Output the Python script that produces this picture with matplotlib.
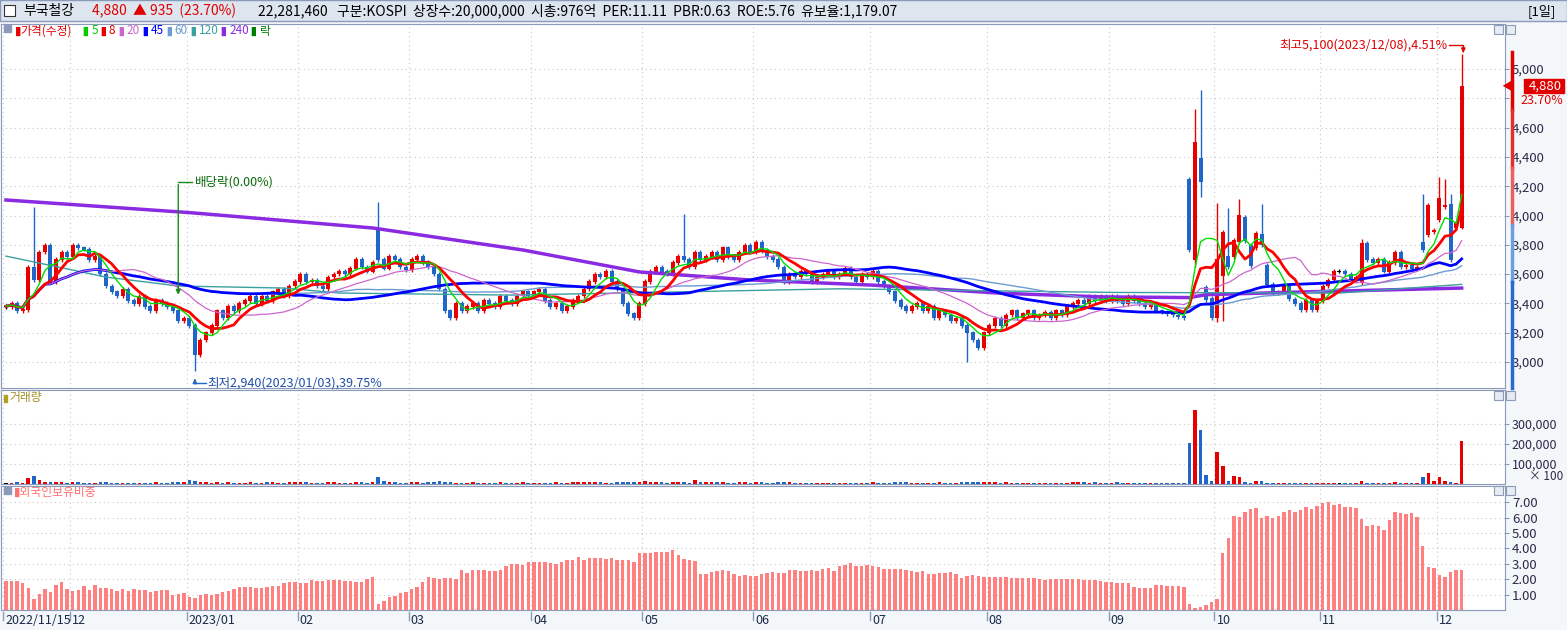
import numpy as np
import pandas as pd
import matplotlib
matplotlib.use('Agg')
import matplotlib.pyplot as plt
from matplotlib.lines import Line2D
from matplotlib.patches import Rectangle

plt.rcParams['font.family'] = ['Noto Sans CJK KR', 'DejaVu Sans']

# ---- data ----
month_labels = ['2022/11/15', '12', '2023/01', '02', '03', '04', '05', '06', '07', '08', '09', '10', '11', '12']

close_by_month = [
    [3380, 3400, 3350, 3360, 3650, 3560, 3750, 3800, 3550, 3700, 3750, 3720],
    [3800, 3780, 3770, 3700, 3720, 3600, 3520, 3480, 3450, 3500, 3420, 3400, 3450, 3380, 3350, 3420, 3400, 3380, 3350, 3280, 3300],
    [3250, 3050, 3150, 3200, 3250, 3350, 3300, 3380, 3350, 3400, 3420, 3450, 3400, 3450, 3420, 3480, 3500, 3450, 3520, 3550],
    [3600, 3550, 3560, 3520, 3500, 3580, 3600, 3620, 3600, 3640, 3700, 3650, 3620, 3680, 3700, 3640, 3720, 3700, 3650, 3630],
    [3700, 3720, 3680, 3650, 3600, 3500, 3350, 3300, 3400, 3350, 3380, 3400, 3350, 3420, 3400, 3380, 3450, 3420, 3400, 3450, 3480, 3450],
    [3480, 3500, 3420, 3380, 3400, 3350, 3380, 3420, 3450, 3500, 3550, 3600, 3580, 3620, 3550, 3500, 3400, 3330, 3300, 3400],
    [3550, 3620, 3650, 3620, 3600, 3680, 3720, 3700, 3650, 3750, 3700, 3720, 3750, 3700, 3780, 3720, 3700, 3750, 3800, 3750],
    [3820, 3760, 3720, 3700, 3650, 3550, 3600, 3580, 3620, 3600, 3550, 3580, 3600, 3620, 3580, 3600, 3640, 3580, 3550, 3600, 3580],
    [3620, 3550, 3520, 3480, 3420, 3380, 3350, 3380, 3400, 3350, 3380, 3300, 3350, 3320, 3280, 3300, 3250, 3200, 3150, 3100, 3200],
    [3250, 3300, 3250, 3320, 3350, 3300, 3330, 3350, 3300, 3320, 3340, 3300, 3350, 3320, 3380, 3400, 3420, 3400, 3450, 3420, 3450, 3420],
    [3450, 3420, 3400, 3450, 3420, 3400, 3380, 3400, 3350, 3340, 3330, 3320, 3310, 3300, 3765, 4500, 4230, 3423, 3300],
    [3700, 3887, 3650, 3830, 4000, 3830, 3660, 3880, 3800, 3530, 3470, 3480, 3520, 3430, 3400, 3360, 3420, 3360, 3420],
    [3520, 3560, 3620, 3620, 3600, 3560, 3580, 3810, 3700, 3680, 3700, 3620, 3680, 3750, 3650, 3660, 3640, 3650, 3765, 4070, 3900],
    [4120, 4070, 3700, 3945, 4880],
]

open_override = {67: 3900, 213: 4250, 214: 3700, 215: 4390, 216: 3512, 217: 3437, 218: 3300, 219: 3590,
                 220: 3720, 221: 3720, 222: 3820, 223: 3990, 224: 3800, 225: 3780, 226: 3870, 227: 3660,
                 244: 3540, 255: 3820, 256: 3870, 257: 3890, 258: 3970, 259: 4060, 260: 4080, 261: 3915, 262: 3920}
high_override = {5: 4058, 67: 4090, 122: 4010, 214: 4727, 215: 4857, 218: 4085, 220: 4050, 222: 4110,
                 226: 4080, 244: 3840, 255: 4150, 258: 4260, 259: 4250, 260: 4150, 262: 5100}
low_override = {34: 2940, 173: 3000, 214: 3650, 215: 4126, 219: 3280, 218: 3270}

vol_by_month = [
    [6, 5, 8, 6, 30, 38, 22, 12, 8, 10, 9, 6],
    [10, 8, 6, 7, 6, 8, 9, 6, 5, 6, 5, 7, 6, 5, 6, 8, 6, 5, 9, 12, 8],
    [18, 14, 9, 8, 7, 9, 6, 8, 6, 7, 6, 8, 7, 6, 8, 9, 7, 6, 8, 9],
    [10, 8, 7, 6, 7, 9, 8, 7, 6, 7, 12, 8, 7, 9, 35, 14, 10, 8, 7, 6],
    [9, 8, 7, 10, 12, 14, 10, 8, 7, 6, 7, 8, 6, 7, 6, 6, 8, 7, 6, 7, 8, 7],
    [7, 6, 6, 7, 8, 6, 7, 8, 9, 8, 9, 12, 8, 7, 6, 8, 9, 10, 8, 12],
    [14, 10, 9, 8, 7, 9, 12, 8, 7, 22, 9, 8, 10, 8, 9, 7, 6, 8, 9, 7],
    [10, 8, 7, 6, 8, 12, 8, 7, 6, 7, 6, 7, 6, 7, 6, 6, 7, 6, 6, 7, 6],
    [8, 7, 6, 7, 8, 9, 8, 7, 6, 7, 6, 7, 8, 7, 6, 7, 8, 9, 10, 12, 9],
    [10, 9, 7, 8, 7, 6, 7, 6, 6, 7, 6, 7, 6, 7, 6, 8, 9, 8, 7, 8, 7, 6],
    [7, 8, 6, 7, 6, 6, 7, 6, 7, 6, 6, 7, 6, 7, 202, 369, 270, 44, 15],
    [157, 89, 15, 39, 34, 10, 6, 15, 15, 6, 7, 6, 6, 7, 6, 6, 7, 6, 6],
    [7, 6, 6, 7, 6, 7, 6, 15, 6, 7, 6, 6, 7, 10, 6, 7, 6, 6, 34, 54, 15],
    [34, 15, 10, 5, 216],
]

foreign = [
    1.91, 1.91, 1.91, 1.74, 1.46, 0.74, 1.07, 1.37, 1.17, 1.63,
    1.83, 1.37, 1.26, 1.30, 1.57, 1.30, 1.61, 1.43, 1.43, 1.37,
    1.26, 1.37, 1.26, 1.35, 1.30, 1.30, 1.17, 1.26, 1.30, 1.30,
    0.98, 1.07, 1.11, 0.87, 0.80, 0.98, 1.04, 0.98, 1.04, 1.17,
    1.26, 1.39, 1.50, 1.50, 1.50, 1.43, 1.43, 1.48, 1.54, 1.57,
    1.78, 1.80, 1.83, 1.78, 1.78, 1.96, 1.91, 1.91, 1.96, 1.96,
    1.93, 1.89, 1.89, 1.80, 1.83, 2.00, 2.15, 0.39, 0.57, 0.87,
    0.93, 1.11, 1.15, 1.37, 1.50, 1.83, 2.11, 2.07, 2.02, 2.09,
    2.09, 2.02, 2.57, 2.41, 2.57, 2.61, 2.61, 2.54, 2.54, 2.61,
    2.87, 2.96, 3.00, 2.93, 3.13, 3.13, 3.13, 3.13, 3.07, 3.00,
    3.13, 3.26, 3.26, 3.46, 3.26, 3.35, 3.39,
    3.39, 3.33, 3.39, 3.26, 3.26, 3.26, 3.13, 3.72, 3.72, 3.72,
    3.78, 3.78, 3.78, 3.91, 3.57, 3.33, 3.26, 3.20, 2.35, 2.35,
    2.48, 2.54, 2.61, 2.54, 2.35, 2.22, 2.26, 2.22, 2.20, 2.35,
    2.41, 2.48, 2.41, 2.41, 2.61, 2.61, 2.54, 2.54, 2.61, 2.54,
    2.67, 2.74, 2.54, 2.87, 2.93, 3.07, 2.87, 2.87, 2.93, 2.87,
    2.80, 2.67, 2.67, 2.67, 2.67, 2.61, 2.54, 2.48, 2.54, 2.35,
    2.35, 2.41, 2.41, 2.48, 2.35, 2.09, 2.22, 2.28, 2.22, 2.15,
    2.15, 2.15, 2.15, 2.11, 2.09, 2.09, 2.09, 2.09, 2.09, 2.02,
    1.98, 2.02, 2.02, 2.02, 2.02, 2.02, 2.02, 1.98, 1.96, 1.96,
    1.87, 1.83, 1.83, 1.76, 1.74, 1.74, 1.50, 1.43, 1.43, 1.43,
    1.63, 1.63, 1.57,
    1.54, 1.54, 1.48, 0.37, 0.11, 0.17, 0.30, 0.52, 0.70, 3.70,
    4.67, 6.13, 6.04, 6.37, 6.57, 6.63, 5.98, 6.07, 5.98, 6.11,
    6.37, 6.50, 6.39, 6.50, 6.70, 6.57, 6.76, 6.96, 7.02, 6.83,
    6.89, 6.70, 6.70, 6.63, 5.91, 5.48, 5.52, 5.48, 5.20, 5.85,
    6.37, 6.30, 6.24, 6.30, 6.04, 4.15, 2.78, 2.72, 2.24, 2.13,
    2.46, 2.59, 2.59,
]

ma120_idx = [0, 18, 31, 50, 60, 91, 150, 200, 240, 262]
ma120_val = [3723, 3580, 3519, 3505, 3471, 3457, 3500, 3475, 3471, 3530]
ma240_idx = [0, 33, 66, 93, 114, 134, 156, 179, 197, 213, 216, 233, 262]
ma240_val = [4106, 4020, 3915, 3765, 3615, 3560, 3525, 3470, 3445, 3440, 3460, 3478, 3505]

# ---- derived ----
close = np.array([c for m in close_by_month for c in m], dtype=float)
n = len(close)
opn = np.r_[close[0], close[:-1]]
for k, v in open_override.items():
    opn[k] = v
hi = np.maximum(opn, close) + 15
lo = np.minimum(opn, close) - 15
for k, v in high_override.items():
    hi[k] = v
for k, v in low_override.items():
    lo[k] = v
vol = np.array([v for m in vol_by_month for v in m], dtype=float) * 1000
month_starts = np.cumsum([0] + [len(m) for m in close_by_month[:-1]])
x = np.arange(n)
s = pd.Series(close)

RED = '#e80000'
BLUE = '#1f66c8'
up = close > opn
down = close < opn
ccol = np.where(up, RED, np.where(down, BLUE, 'black'))

W, H = 1567, 630
fig = plt.figure(figsize=(W / 100, H / 100), dpi=100)
fig.patch.set_facecolor('#f4f7f9')

def px_axes(x0, y0, x1, y1):
    return fig.add_axes([x0 / W, 1 - y1 / H, (x1 - x0) / W, (y1 - y0) / H])

xlim = (-0.9, 269.8)
ax_p = px_axes(1, 24, 1505, 388)
ax_v = px_axes(1, 390, 1505, 484)
ax_f = px_axes(1, 486, 1505, 610)

for ax in (ax_p, ax_v, ax_f):
    ax.set_facecolor('white')
    ax.set_xlim(*xlim)
    for sp in ax.spines.values():
        sp.set_color('#8a9ab8')
    ax.yaxis.tick_right()
    ax.tick_params(axis='y', length=3, colors='#8a9ab8', labelcolor='#2a2a4a', labelsize=9.5, pad=2)
    ax.tick_params(axis='x', length=0, labelbottom=False)
    ax.set_xticks(month_starts - 0.5)
    ax.grid(True, color='#c8c8c8', linestyle=(0, (1, 3)), linewidth=0.8)
    ax.set_axisbelow(True)

# price panel
ax_p.set_ylim(2823, 5307)
ticks = list(range(3000, 5001, 200))
ax_p.set_yticks(ticks)
ax_p.set_yticklabels(['' if t == 4800 else f'{t:,}' for t in ticks])
ax_p.vlines(x, lo, hi, colors=ccol, linewidth=1)
ax_p.bar(x, np.abs(close - opn) + 4, bottom=np.minimum(close, opn) - 2, width=0.72, color=ccol)

ax_p.plot(ma240_idx, ma240_val, color='#8a2be2', lw=2.5)
ax_p.plot(ma120_idx, ma120_val, color='#3aa0a0', lw=1)
ax_p.plot(x, s.rolling(60, min_periods=1).mean(), color='#6b9bd0', lw=1)
ax_p.plot(x, s.rolling(45, min_periods=1).mean(), color='#0000ff', lw=2)
ax_p.plot(x, s.rolling(20, min_periods=1).mean(), color='#cc66cc', lw=0.9)
ax_p.plot(x, s.rolling(8, min_periods=1).mean(), color='#ff0000', lw=2)
ax_p.plot(x, s.rolling(5, min_periods=1).mean(), color='#00dd00', lw=1)

# legend line
items = [('▮', '#e80000'), ('가격(수정)', '#e80000'), (' ▮', '#00cc00'), ('5', '#00cc00'), (' ▮', '#e80000'), ('8', '#e80000'),
         (' ▮', '#cc66cc'), ('20', '#cc66cc'), (' ▮', '#0000ff'), ('45', '#0000ff'), (' ▮', '#6b9bd0'), ('60', '#6b9bd0'),
         (' ▮', '#3aa0a0'), ('120', '#3aa0a0'), (' ▮', '#8a2be2'), ('240', '#8a2be2'), (' ▮', '#008000'), ('락', '#008000')]
fig.patches.append(Rectangle((4 / W, 1 - 32 / H), 7 / W, 7 / H, transform=fig.transFigure, color='#8a9ab8'))
xx = 15
for txt, col in items:
    fig.text(xx / W, 1 - 31 / H, txt, color=col, fontsize=8.5, va='center', ha='left')
    if txt.strip() == '▮':
        xx += 5.5 * len(txt)
    elif txt.isascii():
        xx += 6.5 * len(txt)
    else:
        xx += 10 * len(txt)

# annotations
ax_p.annotate('', xy=(31, 3440), xytext=(31, 4230),
              arrowprops=dict(arrowstyle='-|>', color='#1a8a1a', lw=1, mutation_scale=7))
ax_p.plot([31, 33.5], [4230, 4230], color='#1a8a1a', lw=1)
ax_p.text(34, 4230, '배당락(0.00%)', color='#0a6a0a', fontsize=9, va='center')
ax_p.annotate('', xy=(34, 2905), xytext=(34, 2855), arrowprops=dict(arrowstyle='-|>', color='#1f66c8', lw=1, mutation_scale=6))
ax_p.plot([34, 36], [2855, 2855], color='#1f66c8', lw=1)
ax_p.text(36.3, 2855, '최저2,940(2023/01/03),39.75%', color='#1f4fa8', fontsize=9, va='center')
ax_p.text(259.5, 5165, '최고5,100(2023/12/08),4.51%', color='#e00000', fontsize=9, va='center', ha='right')
ax_p.plot([259.7, 262.3, 262.3], [5165, 5165, 5130], color='#e00000', lw=1)
ax_p.annotate('', xy=(262.3, 5110), xytext=(262.3, 5140), arrowprops=dict(arrowstyle='-|>', color='#e00000', lw=1, mutation_scale=6))

# current price label
fig.patches.append(Rectangle((1524 / W, 1 - 93 / H), 40 / W, 14 / H, transform=fig.transFigure, color='#e00000', zorder=5))
fig.text(1562 / W, 1 - 86 / H, '4,880', color='white', fontsize=9.5, ha='right', va='center', zorder=6)
fig.text(1563 / W, 1 - 101 / H, '23.70%', color='#e00000', fontsize=9, ha='right', va='center')
fig.text(1501 / W, 1 - 87 / H, '◀', color='#e00000', fontsize=8, ha='left', va='center')
# price range strip
for y0, y1, c in [(52, 110, '#e00000'), (110, 168, '#e23030'), (168, 225, '#ea6060'),
                  (225, 282, '#6f9ee0'), (282, 388, '#2a6ad0')]:
    fig.add_artist(Line2D([1512 / W, 1512 / W], [1 - y0 / H, 1 - y1 / H], color=c, lw=2.5))

# volume panel
ax_v.set_ylim(0, 467000)
ax_v.set_yticks([100000, 200000, 300000])
ax_v.set_yticklabels(['100,000', '200,000', '300,000'])
ax_v.tick_params(axis='y', labelsize=9)
ax_v.bar(x, vol, width=0.65, color=ccol)
fig.text(1563 / W, 1 - 476 / H, '× 100', color='#2a2a4a', fontsize=8.5, ha='right', va='center')
fig.patches.append(Rectangle((4 / W, 1 - 402 / H), 3 / W, 7 / H, transform=fig.transFigure, color='#b0a020'))
fig.text(9 / W, 1 - 398 / H, '거래량', color='#a09020', fontsize=8.5, va='center')

# foreign ownership panel
ax_f.set_ylim(0, 8.05)
ax_f.set_yticks(range(1, 8))
ax_f.set_yticklabels([f'{v}.00' for v in range(1, 8)])
ax_f.bar(np.arange(len(foreign)), foreign, width=0.62, color='#ff8080')
fig.patches.append(Rectangle((4 / W, 1 - 494 / H), 7 / W, 7 / H, transform=fig.transFigure, color='#8a9ab8'))
fig.text(14 / W, 1 - 492 / H, '▮외국인보유비중', color='#ff7070', fontsize=8.5, va='center')

# panel buttons
for yb in (30, 396, 491):
    for xb in (1494, 1506):
        fig.patches.append(Rectangle((xb / W, 1 - (yb + 4) / H), 9 / W, 9 / H, transform=fig.transFigure,
                                     facecolor='#e8ecf2', edgecolor='#8a9ab8', lw=0.8))

# x axis month labels
for ms, lab in zip(month_starts, month_labels):
    xp = 1 + (ms - 0.5 - xlim[0]) / (xlim[1] - xlim[0]) * 1504
    fig.add_artist(Line2D([xp / W, xp / W], [1 - 612 / H, 1 - 620 / H], color='#8a9ab8', lw=1))
    fig.text((xp + 2) / W, 1 - 620 / H, lab, color='#1a2a4a', fontsize=9, va='center', ha='left')

# header
fig.patches.append(Rectangle((0, 1 - 21 / H), 1, 21 / H, transform=fig.transFigure, facecolor='#dde5ef',
                             edgecolor='#8a9ab8', lw=1))
fig.patches.append(Rectangle((4 / W, 1 - 16 / H), 11 / W, 11 / H, transform=fig.transFigure,
                             facecolor='white', edgecolor='#333333', lw=0.8))
fig.text(23 / W, 1 - 11 / H, '부국철강', fontsize=10, va='center', color='black')
fig.text(92 / W, 1 - 11 / H, '4,880  ▲ 935  (23.70%)', fontsize=10, va='center', color='#e00000')
fig.text(258 / W, 1 - 11 / H, '22,281,460   구분:KOSPI  상장수:20,000,000  시총:976억  PER:11.11  PBR:0.63  ROE:5.76  유보율:1,179.07',
         fontsize=10, va='center', color='black')
fig.text(1528 / W, 1 - 11 / H, '[1일]', fontsize=9.5, va='center', color='black')

fig.savefig('out.png', dpi=100, facecolor=fig.get_facecolor())
